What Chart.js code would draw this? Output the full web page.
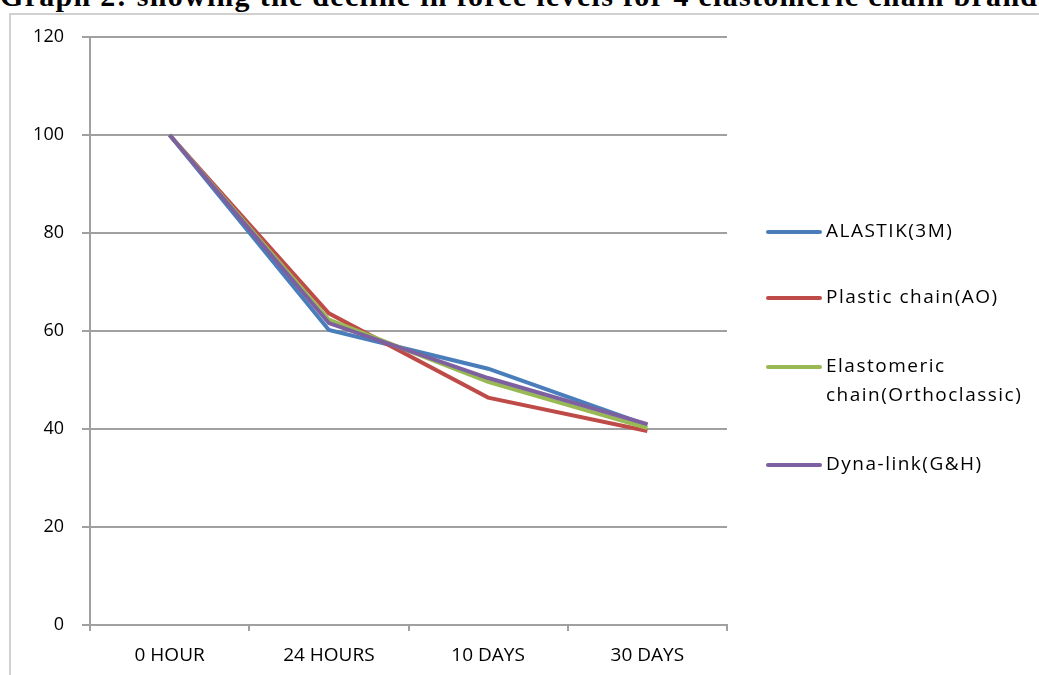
<!DOCTYPE html>
<html>
<head>
<meta charset="utf-8">
<script src="https://cdn.jsdelivr.net/npm/chart.js@4.4.1/dist/chart.umd.min.js"></script>
<style>
  html, body { margin: 0; padding: 0; background: #fff; overflow: hidden; }
  #wrap { position: relative; width: 1039px; height: 675px; overflow: hidden; }
  #title {
    position: absolute; left: 0; top: -19px; white-space: nowrap;
    font-family: "Liberation Serif", serif; font-weight: bold; font-size: 30px;
    letter-spacing: 1.3px; color: #000; line-height: 1;
  }
  #frame {
    position: absolute; left: 9px; top: 13px; width: 1100px; height: 700px;
    border: 2px solid #d0d0d0; box-sizing: border-box;
  }
  canvas { position: absolute; left: 0; top: 0; }
</style>
</head>
<body>
<div id="wrap">
  <div id="frame"></div>
  <div id="title">Graph 2: showing the decline in force levels for 4 elastomeric chain brands</div>
  <canvas id="chart" width="1039" height="675"></canvas>
</div>
<script>
// Categorias e séries
const categories = ['0 HOUR', '24 HOURS', '10 DAYS', '30 DAYS'];
const alastik = [100, 60.2, 52.3, 40.8];
const plasticChain = [100, 63.6, 46.4, 39.6];
const elastomericChain = [100, 62.3, 49.6, 40.2];
const dynaLink = [100, 61.6, 50.4, 41.0];
const yTicks = [0, 20, 40, 60, 80, 100, 120];

const seriesNames = ['ALASTIK(3M)', 'Plastic chain(AO)', 'Elastomeric\nchain(Orthoclassic)', 'Dyna-link(G&H)'];
const seriesColors = ['#4a7ebb', '#be4b48', '#98b954', '#7d60a0'];
const seriesData = [alastik, plasticChain, elastomericChain, dynaLink];

const fontFamily = '"Open Sans", "Liberation Sans", sans-serif';

// Legenda desenhada à direita (posições fixas como no original)
const sideLegend = {
    id: 'sideLegend',
    afterDraw(chart) {
        const ctx = chart.ctx;
        const rows = [232, 298, 367, 465];
        ctx.save();
        ctx.font = '19px ' + fontFamily;
        if ('letterSpacing' in ctx) ctx.letterSpacing = '1.5px';
        ctx.textBaseline = 'middle';
        ctx.fillStyle = '#000';
        chart.data.datasets.forEach((ds, i) => {
            const y = rows[i];
            ctx.strokeStyle = ds.borderColor;
            ctx.lineWidth = 4;
            ctx.lineCap = 'round';
            ctx.beginPath();
            ctx.moveTo(768, y);
            ctx.lineTo(820, y);
            ctx.stroke();
            const lines = ds.label.split('\n');
            lines.forEach((t, j) => ctx.fillText(t, 826, y + j * 29));
        });
        ctx.restore();
    }
};

new Chart(document.getElementById('chart'), {
    type: 'line',
    data: {
        labels: categories,
        datasets: seriesData.map((d, i) => ({
            label: seriesNames[i],
            data: d,
            borderColor: seriesColors[i],
            backgroundColor: seriesColors[i],
            borderWidth: 4,
            pointRadius: 0,
            tension: 0,
            fill: false,
            order: seriesData.length - i // a última série fica por cima
        }))
    },
    options: {
        responsive: false,
        animation: false,
        devicePixelRatio: 1,
        layout: { padding: { left: 0, top: 37, right: 312, bottom: 0 } },
        plugins: { legend: { display: false }, tooltip: { enabled: false } },
        scales: {
            x: {
                offset: true,
                afterFit(scale) { scale.height = 50; },
                grid: { display: true, drawOnChartArea: false, drawTicks: true, tickLength: 6, color: '#a0a0a0', lineWidth: 2, offset: true },
                border: { display: true, color: '#a0a0a0', width: 2 },
                ticks: { color: '#000', font: { family: fontFamily, size: 19 }, padding: 13 }
            },
            y: {
                min: 0,
                max: 120,
                afterFit(scale) { scale.width = 90; },
                afterBuildTicks(scale) { scale.ticks = yTicks.map(v => ({ value: v })); },
                grid: { color: '#a0a0a0', lineWidth: 2, tickLength: 8 },
                border: { display: true, color: '#a0a0a0', width: 2 },
                ticks: { color: '#000', font: { family: fontFamily, size: 18 }, padding: 18 }
            }
        }
    },
    plugins: [sideLegend]
});
</script>
</body>
</html>
